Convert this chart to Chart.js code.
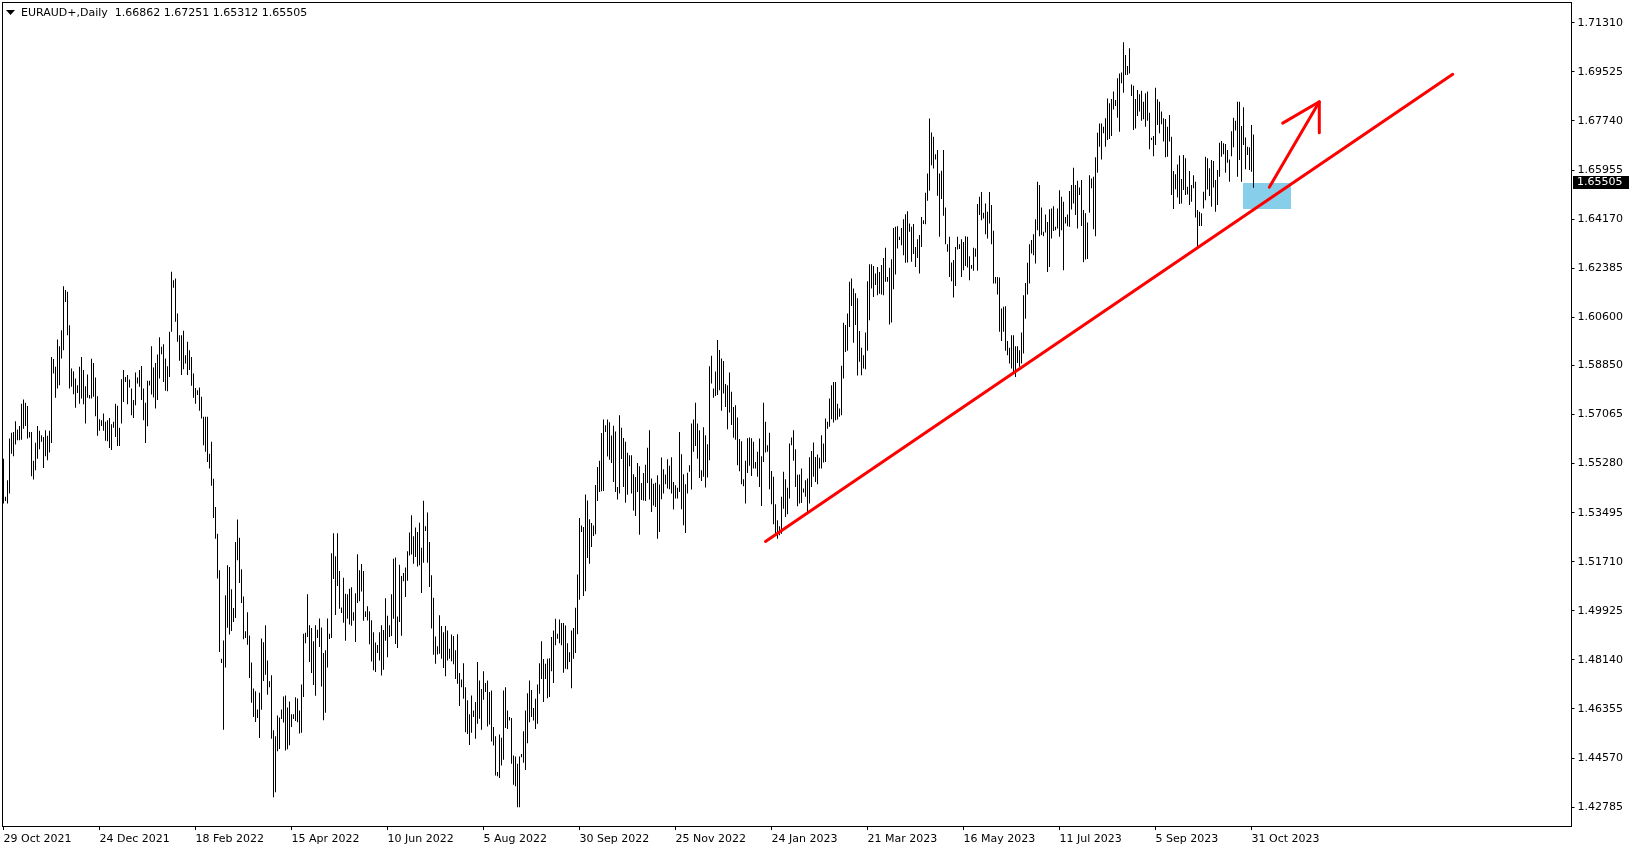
<!DOCTYPE html>
<html>
<head>
<meta charset="utf-8">
<title>EURAUD+ Daily</title>
<script src="https://cdn.jsdelivr.net/npm/chart.js@4.4.0/dist/chart.umd.min.js"></script>
<style>
  html, body { margin: 0; padding: 0; background: #fff; }
  #chart { display: block; }
</style>
</head>
<body>
<canvas id="chart" width="1635" height="850"></canvas>
<script>
const symbolName = "EURAUD+,Daily";
// open, high, low, close of the last bar (header line)
const lastBar = [1.66862, 1.67251, 1.65312, 1.65505];

const dateLabels = [
  "29 Oct 2021", "24 Dec 2021", "18 Feb 2022", "15 Apr 2022", "10 Jun 2022",
  "5 Aug 2022", "30 Sep 2022", "25 Nov 2022", "24 Jan 2023", "21 Mar 2023",
  "16 May 2023", "11 Jul 2023", "5 Sep 2023", "31 Oct 2023",
];
const barsPerLabel = 48;
const totalSlots = 784;

const priceTicks = [
  1.71310, 1.69525, 1.67740, 1.65955, 1.64170, 1.62385, 1.60600, 1.58850, 1.57065,
  1.55280, 1.53495, 1.51710, 1.49925, 1.48140, 1.46355, 1.44570, 1.42785,
];
const priceMin = 1.4210;
const priceMax = 1.7203;

const highs = [
  1.5546,1.5407,1.5467,1.5619,1.5640,1.5643,1.5682,1.5652,1.5665,1.5746,
  1.5761,1.5749,1.5737,1.5643,1.5643,1.5538,1.5604,1.5665,1.5647,1.5631,
  1.5625,1.5649,1.5629,1.5647,1.5916,1.5908,1.5880,1.5979,1.5955,1.6013,
  1.6173,1.6159,1.6153,1.6031,1.5874,1.5864,1.5837,1.5813,1.5880,1.5916,
  1.5868,1.5809,1.5852,1.5777,1.5909,1.5894,1.5841,1.5773,1.5689,1.5686,
  1.5710,1.5680,1.5686,1.5694,1.5671,1.5680,1.5746,1.5738,1.5658,1.5835,
  1.5868,1.5843,1.5850,1.5834,1.5801,1.5759,1.5859,1.5841,1.5868,1.5883,
  1.5801,1.5749,1.5829,1.5829,1.5955,1.5877,1.5894,1.5925,1.5987,1.5953,
  1.5962,1.5910,1.5882,1.6007,1.6226,1.6195,1.6201,1.6074,1.5995,1.5995,
  1.6011,1.5922,1.5971,1.5940,1.5916,1.5856,1.5803,1.5795,1.5805,1.5771,
  1.5698,1.5698,1.5698,1.5564,1.5607,1.5473,1.5370,1.5273,1.5140,
  1.4818,1.4885,1.5049,1.5158,1.5152,1.5071,1.5003,1.5243,1.5325,1.5258,
  1.5144,1.5045,1.4918,1.4987,1.4903,1.4805,1.4710,1.4700,1.4634,1.4695,
  1.4892,1.4878,1.4940,1.4812,1.4736,1.4758,1.4558,1.4536,1.4612,1.4605,
  1.4634,1.4681,1.4685,1.4641,1.4663,1.4616,1.4616,1.4678,1.4674,1.4630,
  1.4725,1.4909,1.4913,1.5053,1.4940,1.4930,1.4882,1.4940,1.4924,1.4965,
  1.4932,1.4839,1.4849,1.4965,1.4909,1.5202,1.5275,1.5191,1.5275,1.5137,
  1.5005,1.5113,1.5055,1.5053,1.5073,1.5078,1.4987,1.5056,1.5198,1.5140,
  1.5163,1.5137,1.4991,1.5009,1.4991,1.4958,1.4915,1.4877,1.4868,1.4915,
  1.4940,1.4923,1.5038,1.4975,1.4940,1.5053,1.5182,1.5186,1.4972,1.5160,
  1.5119,1.5130,1.5150,1.5209,1.5277,1.5340,1.5264,1.5296,1.5279,1.5313,
  1.5222,1.5393,1.5300,1.5350,1.5243,1.5122,1.5040,
  1.4899,1.4864,1.4976,1.4937,1.4915,1.4937,1.4921,1.4855,1.4906,1.4901,
  1.4849,1.4907,1.4766,1.4743,1.4802,1.4715,1.4667,1.4616,1.4685,1.4630,
  1.4661,1.4806,1.4739,1.4708,1.4773,1.4730,1.4739,1.4697,1.4703,1.4570,
  1.4536,1.4406,1.4543,1.4531,1.4703,1.4715,1.4630,1.4606,1.4603,1.4466,
  1.4463,1.4436,1.4463,1.4472,1.4555,1.4630,1.4693,1.4739,1.4705,1.4639,
  1.4673,1.4725,1.4802,1.4882,1.4817,1.4800,1.4818,1.4820,1.4897,1.4921,
  1.4964,1.4909,1.4961,1.4948,1.4948,1.4939,1.4875,1.4842,1.4921,1.4930,
  1.5004,1.5125,1.5330,1.5303,1.5297,1.5416,1.5394,1.5326,1.5312,1.5303,
  1.5450,1.5516,1.5538,1.5639,1.5688,1.5667,1.5688,1.5678,1.5630,1.5666,
  1.5645,1.5443,1.5704,1.5658,1.5621,1.5607,1.5567,1.5558,1.5558,1.5489,
  1.5479,1.5530,1.5518,1.5457,1.5494,1.5524,1.5586,1.5649,
  1.5474,1.5455,1.5458,1.5486,1.5452,1.5550,1.5507,1.5488,1.5544,1.5520,
  1.5551,1.5461,1.5449,1.5440,1.5643,1.5562,1.5489,1.5453,1.5495,1.5522,
  1.5674,1.5688,1.5749,1.5674,1.5649,1.5504,1.5660,1.5631,1.5598,1.5882,
  1.5920,1.5801,1.5863,1.5977,1.5941,1.5910,1.5901,1.5817,1.5813,1.5859,
  1.5789,1.5734,1.5740,1.5696,1.5617,1.5609,1.5471,1.5538,1.5620,1.5623,
  1.5620,1.5607,1.5534,1.5571,1.5619,1.5555,1.5749,1.5680,1.5595,1.5640,
  1.5501,1.5480,1.5380,1.5322,1.5300,1.5407,1.5498,1.5471,1.5440,1.5601,
  1.5623,1.5649,1.5580,1.5487,1.5488,1.5510,1.5437,1.5467,1.5474,1.5551,
  1.5574,1.5605,1.5552,1.5561,1.5549,1.5631,1.5601,1.5692,1.5680,1.5765,
  1.5813,1.5825,1.5825,1.5746,1.5728,1.5884,1.6040,1.6032,1.6074,1.6189,
  1.6201,1.6165,1.6147,1.6129,1.6010,
  1.5949,1.5922,1.6005,1.6191,1.6253,1.6253,1.6247,1.6219,1.6243,1.6225,
  1.6250,1.6276,1.6313,1.6207,1.6240,1.6271,1.6385,1.6389,1.6391,1.6353,
  1.6385,1.6417,1.6435,1.6446,1.6401,1.6389,1.6399,1.6316,1.6344,1.6359,
  1.6425,1.6413,1.6513,1.6583,1.6783,1.6732,1.6717,1.6653,1.6668,1.6583,
  1.6593,1.6668,1.6459,1.6326,1.6353,1.6259,1.6268,1.6316,1.6353,1.6326,
  1.6344,1.6334,1.6355,1.6353,1.6282,1.6250,1.6313,1.6310,1.6472,1.6498,
  1.6516,1.6440,1.6474,1.6444,1.6516,1.6468,1.6375,1.6207,1.6207,1.6205,
  1.6092,1.6098,1.6100,1.5974,1.5949,1.5995,1.5995,1.5955,1.5955,1.5940,
  1.6005,1.6140,1.6185,1.6258,1.6326,1.6341,1.6362,1.6417,1.6553,1.6541,
  1.6459,1.6371,1.6434,1.6407,1.6453,1.6456,1.6464,1.6389,1.6456,1.6522,
  1.6498,1.6480,1.6425,1.6434,1.6519,
  1.6541,1.6604,1.6541,1.6557,1.6532,1.6559,1.6450,1.6438,1.6405,1.6577,
  1.6565,1.6571,1.6642,1.6731,1.6765,1.6765,1.6753,1.6784,1.6856,1.6838,
  1.6854,1.6881,1.6850,1.6929,1.6947,1.6950,1.7060,1.7014,1.6974,1.7038,
  1.6907,1.6902,1.6854,1.6887,1.6871,1.6884,1.6844,1.6875,1.6881,1.6804,
  1.6713,1.6719,1.6895,1.6853,1.6844,1.6808,1.6784,1.6781,1.6753,1.6796,
  1.6717,1.6592,1.6580,1.6616,1.6648,1.6563,1.6650,1.6638,1.6535,1.6592,
  1.6541,1.6577,1.6553,1.6450,1.6444,1.6438,1.6517,1.6644,1.6638,1.6602,
  1.6632,1.6628,1.6559,1.6596,1.6695,1.6701,1.6693,1.6690,1.6668,1.6634,
  1.6737,1.6786,1.6775,1.6844,1.6844,1.6756,1.6824,1.6714,1.6680,1.6678,
  1.6759,1.6725,
];

const lows = [
  1.5383,1.5392,1.5383,1.5419,1.5564,1.5555,1.5597,1.5613,1.5613,1.5615,
  1.5655,1.5665,1.5619,1.5623,1.5482,1.5470,1.5504,1.5546,1.5580,1.5607,
  1.5512,1.5555,1.5540,1.5568,1.5603,1.5856,1.5767,1.5801,1.5813,1.5910,
  1.5940,1.6116,1.5995,1.5801,1.5807,1.5780,1.5731,1.5785,1.5746,1.5765,
  1.5744,1.5674,1.5767,1.5765,1.5765,1.5771,1.5700,1.5629,1.5647,1.5665,
  1.5647,1.5611,1.5609,1.5585,1.5577,1.5658,1.5625,1.5592,1.5592,1.5674,
  1.5752,1.5825,1.5744,1.5805,1.5704,1.5694,1.5740,1.5819,1.5807,1.5759,
  1.5686,1.5603,1.5664,1.5812,1.5779,1.5768,1.5728,1.5759,1.5837,1.5926,
  1.5825,1.5793,1.5791,1.5843,1.6007,1.6167,1.6044,1.5971,1.5902,1.5850,
  1.5871,1.5892,1.5850,1.5868,1.5811,1.5767,1.5746,1.5777,1.5720,1.5692,
  1.5595,1.5571,1.5534,1.5510,1.5447,1.5330,1.5255,1.5110,1.4843,
  1.4803,1.4560,1.4786,1.4931,1.4906,1.4919,1.4952,1.4966,1.5176,1.5094,
  1.5021,1.4889,1.4894,1.4869,1.4748,1.4658,1.4606,1.4588,1.4603,1.4530,
  1.4633,1.4737,1.4760,1.4687,1.4715,1.4527,1.4315,1.4333,1.4482,1.4490,
  1.4599,1.4586,1.4485,1.4489,1.4504,1.4570,1.4599,1.4592,1.4587,1.4546,
  1.4549,1.4679,1.4875,1.4897,1.4806,1.4766,1.4723,1.4684,1.4894,1.4861,
  1.4717,1.4595,1.4622,1.4786,1.4890,1.4894,1.5108,1.4977,1.5083,1.5000,
  1.4985,1.4949,1.4884,1.4964,1.4943,1.4938,1.4956,1.4879,1.5021,1.5027,
  1.5063,1.4956,1.4970,1.4957,1.4871,1.4808,1.4776,1.4770,1.4839,1.4812,
  1.4757,1.4778,1.4884,1.4824,1.4897,1.4901,1.4964,1.4872,1.4857,1.4952,
  1.4902,1.5100,1.5043,1.5102,1.5194,1.5197,1.5164,1.5188,1.5154,1.5158,
  1.5057,1.5167,1.5283,1.5167,1.5079,1.4928,1.4833,
  1.4800,1.4834,1.4836,1.4818,1.4785,1.4755,1.4812,1.4818,1.4809,1.4798,
  1.4745,1.4727,1.4646,1.4715,1.4673,1.4551,1.4545,1.4505,1.4549,1.4606,
  1.4527,1.4582,1.4600,1.4560,1.4669,1.4697,1.4572,1.4579,1.4517,1.4503,
  1.4394,1.4391,1.4385,1.4430,1.4451,1.4566,1.4563,1.4594,1.4436,1.4360,
  1.4355,1.4278,1.4278,1.4460,1.4440,1.4414,1.4511,1.4587,1.4606,1.4594,
  1.4563,1.4582,1.4691,1.4745,1.4661,1.4745,1.4675,1.4679,1.4773,1.4730,
  1.4867,1.4891,1.4875,1.4867,1.4767,1.4782,1.4780,1.4806,1.4711,1.4818,
  1.4839,1.4907,1.5033,1.5279,1.5046,1.5064,1.5185,1.5164,1.5225,1.5265,
  1.5271,1.5392,1.5425,1.5427,1.5428,1.5643,1.5554,1.5542,1.5530,1.5461,
  1.5425,1.5397,1.5419,1.5545,1.5443,1.5386,1.5415,1.5518,1.5419,1.5357,
  1.5337,1.5425,1.5269,1.5396,1.5394,1.5392,1.5457,1.5397,
  1.5352,1.5376,1.5370,1.5255,1.5279,1.5398,1.5419,1.5453,1.5437,1.5435,
  1.5419,1.5361,1.5401,1.5401,1.5425,1.5362,1.5304,1.5276,1.5419,1.5498,
  1.5434,1.5571,1.5592,1.5546,1.5476,1.5465,1.5480,1.5441,1.5477,1.5540,
  1.5819,1.5767,1.5774,1.5777,1.5795,1.5720,1.5783,1.5734,1.5653,1.5714,
  1.5668,1.5622,1.5615,1.5522,1.5500,1.5453,1.5446,1.5383,1.5494,1.5520,
  1.5483,1.5510,1.5510,1.5480,1.5443,1.5374,1.5534,1.5568,1.5571,1.5435,
  1.5380,1.5307,1.5267,1.5255,1.5267,1.5273,1.5364,1.5334,1.5344,1.5401,
  1.5595,1.5538,1.5443,1.5373,1.5383,1.5385,1.5423,1.5407,1.5352,1.5383,
  1.5443,1.5480,1.5461,1.5453,1.5510,1.5510,1.5532,1.5534,1.5655,1.5662,
  1.5689,1.5677,1.5686,1.5688,1.5698,1.5704,1.5837,1.5934,1.5938,1.6025,
  1.6101,1.5967,1.6032,1.5848,1.5898,
  1.5849,1.5874,1.5871,1.5938,1.6049,1.6165,1.6134,1.6177,1.6140,1.6146,
  1.6143,1.6140,1.6189,1.6189,1.6034,1.6041,1.6162,1.6216,1.6310,1.6341,
  1.6322,1.6286,1.6258,1.6259,1.6371,1.6262,1.6290,1.6243,1.6276,1.6219,
  1.6316,1.6399,1.6398,1.6484,1.6520,1.6613,1.6601,1.6634,1.6502,1.6353,
  1.6490,1.6429,1.6326,1.6298,1.6207,1.6191,1.6132,1.6174,1.6307,1.6308,
  1.6207,1.6231,1.6247,1.6241,1.6195,1.6237,1.6229,1.6280,1.6229,1.6432,
  1.6413,1.6419,1.6362,1.6347,1.6401,1.6326,1.6183,1.6183,1.6143,1.6007,
  1.5974,1.6007,1.5938,1.5922,1.5892,1.5874,1.5855,1.5843,1.5894,1.5880,
  1.5892,1.5928,1.6055,1.6143,1.6183,1.6292,1.6286,1.6256,1.6377,1.6355,
  1.6359,1.6355,1.6368,1.6225,1.6243,1.6347,1.6374,1.6377,1.6383,1.6353,
  1.6377,1.6231,1.6401,1.6391,1.6389,
  1.6452,1.6474,1.6432,1.6383,1.6505,1.6392,1.6260,1.6270,1.6272,1.6440,
  1.6529,1.6380,1.6355,1.6586,1.6680,1.6634,1.6729,1.6680,1.6705,1.6708,
  1.6719,1.6816,1.6828,1.6786,1.6735,1.6911,1.6877,1.6941,1.6941,1.6947,
  1.6865,1.6741,1.6747,1.6792,1.6808,1.6775,1.6780,1.6753,1.6775,1.6671,
  1.6705,1.6646,1.6687,1.6759,1.6729,1.6762,1.6699,1.6642,1.6644,1.6699,
  1.6505,1.6454,1.6526,1.6496,1.6472,1.6474,1.6523,1.6505,1.6507,1.6468,
  1.6480,1.6529,1.6423,1.6314,1.6392,1.6392,1.6456,1.6486,1.6525,1.6501,
  1.6462,1.6532,1.6444,1.6468,1.6571,1.6644,1.6653,1.6586,1.6622,1.6553,
  1.6646,1.6678,1.6739,1.6571,1.6632,1.6553,1.6687,1.6598,1.6650,1.6596,
  1.6589,1.6531,
];

// drawings on the chart, in [bar index, price]
const trendLine = [[381, 1.5245], [724.6, 1.6944]];
const zoneBox = { from: 619.6, to: 643.6, top: 1.6549, bottom: 1.6454 };
const arrowShaft = [[632.9, 1.6533], [657.9, 1.6844]];
const arrowHead = [[639.6, 1.6766], [657.9, 1.6844], [657.9, 1.6731]];

const slotLabels = Array.from({ length: totalSlots }, (_, i) =>
  i % barsPerLabel === 0 && dateLabels[i / barsPerLabel] ? dateLabels[i / barsPerLabel] : ""
);

Chart.defaults.font.family = "'DejaVu Sans', sans-serif";
Chart.defaults.font.size = 11;
Chart.defaults.color = "#000";

const mtOverlay = {
  id: "mtOverlay",
  beforeDatasetsDraw(chart) {
    const { ctx, scales } = chart;
    const x = scales.x, y = scales.y;
    ctx.save();
    ctx.fillStyle = "#87ceeb";
    const x0 = Math.round(x.getPixelForValue(zoneBox.from));
    const x1 = Math.round(x.getPixelForValue(zoneBox.to));
    const y0 = Math.round(y.getPixelForValue(zoneBox.top));
    const y1 = Math.round(y.getPixelForValue(zoneBox.bottom));
    ctx.fillRect(x0, y0, x1 - x0, y1 - y0);
    ctx.restore();
  },
  afterDatasetsDraw(chart) {
    const { ctx, scales } = chart;
    const x = scales.x, y = scales.y;
    const pt = (p) => [x.getPixelForValue(p[0]), y.getPixelForValue(p[1])];
    ctx.save();
    ctx.strokeStyle = "#ff0000";
    ctx.lineWidth = 3;
    ctx.lineCap = "round";
    ctx.lineJoin = "round";
    [trendLine, arrowShaft, arrowHead].forEach((path) => {
      ctx.beginPath();
      path.forEach((p, i) => {
        const [px, py] = pt(p);
        if (i === 0) ctx.moveTo(px, py);
        else ctx.lineTo(px, py);
      });
      ctx.stroke();
    });
    ctx.restore();
  },
  afterDraw(chart) {
    const { ctx, chartArea, scales } = chart;
    ctx.save();
    // frame
    ctx.strokeStyle = "#000";
    ctx.lineWidth = 1;
    ctx.strokeRect(2.5, 2.5, Math.round(chartArea.right) - 2, Math.round(chartArea.bottom) - 2);

    // header
    ctx.fillStyle = "#000";
    ctx.beginPath();
    ctx.moveTo(6, 10);
    ctx.lineTo(15, 10);
    ctx.lineTo(10.5, 15);
    ctx.closePath();
    ctx.fill();
    ctx.font = "11px 'DejaVu Sans'";
    ctx.textBaseline = "middle";
    ctx.textAlign = "left";
    ctx.fillText(symbolName + "  " + lastBar.map((v) => v.toFixed(5)).join(" "), 21, 13);

    // last price marker
    const py = Math.round(scales.y.getPixelForValue(lastBar[3]));
    const bx = Math.round(chartArea.right) + 2;
    ctx.fillRect(bx, py - 6, 56, 13);
    ctx.fillStyle = "#fff";
    ctx.fillText(lastBar[3].toFixed(5), bx + 4, py + 0.5);
    ctx.restore();
  },
};

new Chart(document.getElementById("chart"), {
  type: "bar",
  data: {
    labels: slotLabels,
    datasets: [
      {
        label: symbolName,
        data: highs.map((h, i) => [lows[i], h]),
        backgroundColor: "#000",
        borderWidth: 0,
        borderSkipped: false,
        barThickness: 1,
        inflateAmount: 0,
      },
    ],
  },
  options: {
    responsive: false,
    devicePixelRatio: 1,
    animation: false,
    events: [],
    layout: { padding: { left: 2.5, top: 3, right: 0, bottom: 0 } },
    plugins: { legend: { display: false }, tooltip: { enabled: false } },
    scales: {
      x: {
        type: "category",
        offset: true,
        grid: { display: true, drawOnChartArea: false, offset: false, tickLength: 4, color: "#000" },
        border: { display: false },
        ticks: { autoSkip: false, maxRotation: 0, align: "start", padding: 3, color: "#000" },
        afterBuildTicks: (axis) => {
          axis.ticks = axis.ticks.filter((t) => slotLabels[t.value] !== "");
        },
        afterFit: (axis) => {
          axis.height = 24;
          axis.paddingLeft = 0;
          axis.paddingRight = 0;
        },
      },
      y: {
        position: "right",
        min: priceMin,
        max: priceMax,
        bounds: "data",
        grid: { display: true, drawOnChartArea: false, tickLength: 4, color: "#000" },
        border: { display: false },
        ticks: {
          autoSkip: false,
          padding: 3,
          color: "#000",
          callback: (v) => Number(v).toFixed(5),
        },
        afterBuildTicks: (axis) => {
          axis.ticks = priceTicks.map((v) => ({ value: v }));
        },
        afterFit: (axis) => {
          axis.width = 64.5;
          axis.paddingTop = 0;
          axis.paddingBottom = 0;
        },
      },
    },
  },
  plugins: [mtOverlay],
});
</script>
</body>
</html>
